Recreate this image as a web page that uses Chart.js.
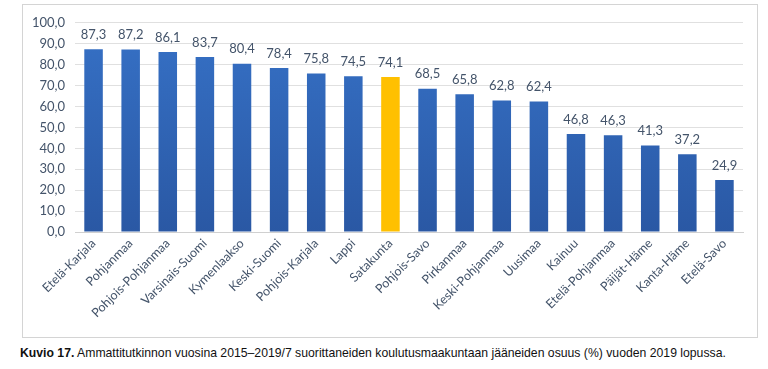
<!DOCTYPE html>
<html><head><meta charset="utf-8">
<script src="https://cdn.jsdelivr.net/npm/chart.js@4/dist/chart.umd.min.js"></script>
<style>
html,body{margin:0;padding:0;background:#fff;width:768px;height:369px;overflow:hidden}
#box{position:absolute;left:22px;top:4px;width:734px;height:332px;border:1px solid #d4d4d4;}
#box canvas{position:absolute;left:0;top:0}
#cap{position:absolute;left:20px;top:345px;font-family:"Liberation Sans",Arial,sans-serif;font-size:13px;color:#111;transform:scaleX(0.94);transform-origin:left top;white-space:nowrap}
</style></head><body>
<div id="box"><canvas id="c" width="734" height="332"></canvas></div>
<div id="cap"><b>Kuvio 17.</b> Ammattitutkinnon vuosina 2015–2019/7 suorittaneiden koulutusmaakuntaan jääneiden osuus (%) vuoden 2019 lopussa.</div>
<script>
const categories = ["Etelä-Karjala","Pohjanmaa","Pohjois-Pohjanmaa","Varsinais-Suomi","Kymenlaakso","Keski-Suomi","Pohjois-Karjala","Lappi","Satakunta","Pohjois-Savo","Pirkanmaa","Keski-Pohjanmaa","Uusimaa","Kainuu","Etelä-Pohjanmaa","Päijät-Häme","Kanta-Häme","Etelä-Savo"];
const values = [87.3,87.2,86.1,83.7,80.4,78.4,75.8,74.5,74.1,68.5,65.8,62.8,62.4,46.8,46.3,41.3,37.2,24.9];
const highlighted = ["Satakunta"];
const yTicks = [0,10,20,30,40,50,60,70,80,90,100];

const fmt = v => v.toFixed(1).replace('.', ',');

const labelPlugin = {
  id: 'vlabels',
  afterDatasetsDraw(chart) {
    const ctx = chart.ctx;
    const meta = chart.getDatasetMeta(0);
    ctx.save();
    ctx.font = '13px Lato, "Open Sans", sans-serif';
    ctx.fillStyle = '#44546A';
    ctx.textAlign = 'center';
    ctx.textBaseline = 'bottom';
    meta.data.forEach((bar, i) => {
      ctx.fillText(fmt(values[i]), bar.x, bar.y - 8);
    });
    ctx.restore();
  }
};

const ctx = document.getElementById('c').getContext('2d');
new Chart(ctx, {
  type: 'bar',
  data: {
    labels: categories,
    datasets: [{
      data: values,
      backgroundColor: (c) => {
        const ch = c.chart, area = ch.chartArea;
        if (highlighted.includes(categories[c.dataIndex])) return '#FFC000';
        if (!area) return '#2F65B7';
        const g = ch.ctx.createLinearGradient(0, area.top, 0, area.bottom);
        g.addColorStop(0, '#3671C6');
        g.addColorStop(1, '#2A58A4');
        return g;
      },
      borderWidth: 0,
      barPercentage: 0.96,
      categoryPercentage: 0.52
    }]
  },
  options: {
    responsive: false,
    animation: false,
    layout: { padding: { top: 17, right: 14, left: 0, bottom: 0 } },
    plugins: { legend: { display: false }, tooltip: { enabled: false } },
    scales: {
      x: {
        grid: { display: false, drawTicks: false },
        border: { color: '#d0d0d0' },
        ticks: {
          minRotation: 45, maxRotation: 45, autoSkip: false,
          padding: 4,
          color: '#44546A',
          font: { family: 'Lato, "Open Sans", sans-serif', size: 12.5 }
        },
        afterFit(s) { s.height = 105; }
      },
      y: {
        min: 0, max: 100,
        afterBuildTicks(s) { s.ticks = yTicks.map(v => ({ value: v })); },
        grid: { color: '#e0e0e0', drawTicks: false },
        border: { display: false },
        ticks: {
          padding: 10,
          color: '#44546A',
          font: { family: 'Lato, "Open Sans", sans-serif', size: 13 },
          callback: v => fmt(v)
        },
        afterFit(s) { s.width = 52; }
      }
    }
  },
  plugins: [labelPlugin]
});
</script>
</body></html>
